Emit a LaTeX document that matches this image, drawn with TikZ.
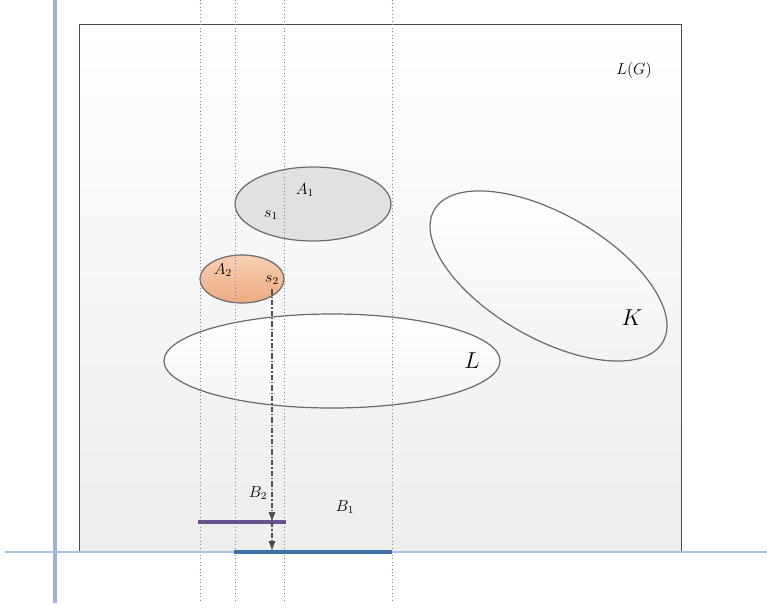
\documentclass[tikz,border=0pt]{standalone}
\usepackage{tikz}
\usetikzlibrary{arrows.meta}
\definecolor{FrameGray}{HTML}{4A4A4A}
\definecolor{EdgeGray}{HTML}{6A6A6A}
\definecolor{AxisPurple}{HTML}{A4AEDA}
\definecolor{AxisBlue}{HTML}{A8C4DE}
\definecolor{GuideBlue}{HTML}{6F86BA}
\definecolor{SegPurple}{HTML}{6A528F}
\definecolor{SegBlue}{HTML}{3F70A6}
\definecolor{SetGray}{HTML}{E1E1E1}
\definecolor{SetOrangeTop}{HTML}{F7D0B2}
\definecolor{SetOrangeBot}{HTML}{EDAA80}
\definecolor{ProjGray}{HTML}{505050}

\begin{document}
\begin{tikzpicture}[
      x=0.75pt,y=-0.75pt,
      >=Latex,
      setline/.style={draw=EdgeGray,line width=0.9pt},
      guide/.style={draw=GuideBlue,line width=0.6pt,dotted},
      proj/.style={draw=ProjGray,line width=0.8pt,dash pattern=on 4pt off 1.5pt on 1pt off 1.5pt,
        -{Latex[length=7.5pt,width=5.5pt]}},
      small/.style={font=\large},
      big/.style={font=\LARGE}
    ]
      \useasboundingbox (0,0) rectangle (767,607);
      \fill[white] (0,0) rectangle (767,607);
      % the frame of L(G)
      \shade[top color=white,bottom color=black!7] (79,24) rectangle (681,552);
      \draw[FrameGray,line width=0.7pt] (79,552) -- (79,24) -- (681,24) -- (681,552);
      \draw[AxisPurple,line width=2.4pt] (55,0) -- (55,603);
      % sets
      \draw[setline,fill=SetGray] (313,204) ellipse [x radius=78,y radius=37];
      \draw[setline,top color=SetOrangeTop,bottom color=SetOrangeBot] (242,279) ellipse [x radius=42,y radius=24];
      \draw[setline,top color=white,bottom color=black!4] (332,361) ellipse [x radius=168,y radius=47];
      \draw[setline,top color=white,bottom color=black!5,rotate around={-30:(548.5,276)}]
        (548.5,276) ellipse [x radius=132,y radius=62];
      % projection guides
      \foreach \gx in {200,235,284,392}
        \draw[guide] (\gx,0) -- (\gx,601);
      \draw[AxisBlue,line width=1.6pt] (5,552) -- (767,552);
      \draw[SegPurple,line width=2.4pt] (198,522) -- (286,522);
      \draw[SegBlue,line width=2.4pt] (234,552) -- (392,552);
      % labels
      \node[small] (lg) at (634,70) {$L(G)$};
      \node[small] (a1) at (305,190) {$A_1$};
      \node[small] (s1) at (271,215) {$s_1$};
      \node[small] (a2) at (223,270) {$A_2$};
      \node[small] (s2) at (272,280) {$s_2$};
      \node[big] (l) at (472,361) {$L$};
      \node[big] (k) at (632,318) {$K$};
      \node[small] (b2) at (258,493) {$B_2$};
      \node[small] (b1) at (345,507) {$B_1$};
      \coordinate (p2) at (272,522);
      \coordinate (p1) at (272,551);
      \draw[proj] (s2.south) -- (p2);
      \draw[proj] (p2) -- (p1);
    \end{tikzpicture}
\end{document}
